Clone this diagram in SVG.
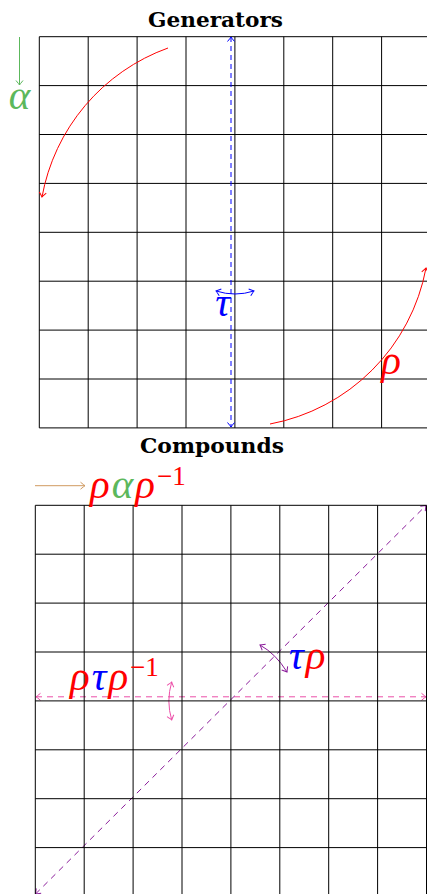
<svg xmlns="http://www.w3.org/2000/svg" width="427" height="894" viewBox="0 0 427 894">
<style>
.grid{fill:none;stroke:#000;stroke-width:1}
.title{font-family:"DejaVu Serif","Liberation Serif",serif;font-weight:bold;font-size:20px;fill:#000}
.m{font-family:"Liberation Serif","DejaVu Serif",serif;font-style:italic;font-size:41px}
.g{letter-spacing:2px}
.sup{font-family:"Liberation Serif","DejaVu Serif",serif;font-size:27px;letter-spacing:0}
.c{fill:none;stroke-width:1}
</style>
<defs>
<marker id="hr" viewBox="-6 -5 8 10" markerWidth="8" markerHeight="10" refX="0" refY="0" orient="auto-start-reverse" markerUnits="userSpaceOnUse"><path d="M-4.5,-3.5 Q-1,-0.6 0,0 Q-1,0.6 -4.5,3.5" fill="none" stroke="#f00" stroke-width="1"/></marker>
<marker id="hb" viewBox="-6 -5 8 10" markerWidth="8" markerHeight="10" refX="0" refY="0" orient="auto-start-reverse" markerUnits="userSpaceOnUse"><path d="M-4.5,-3.5 Q-1,-0.6 0,0 Q-1,0.6 -4.5,3.5" fill="none" stroke="#00f" stroke-width="1"/></marker>
<marker id="hg" viewBox="-6 -5 8 10" markerWidth="8" markerHeight="10" refX="0" refY="0" orient="auto-start-reverse" markerUnits="userSpaceOnUse"><path d="M-4.5,-3.5 Q-1,-0.6 0,0 Q-1,0.6 -4.5,3.5" fill="none" stroke="#5cb85c" stroke-width="1"/></marker>
<marker id="hn" viewBox="-6 -5 8 10" markerWidth="8" markerHeight="10" refX="0" refY="0" orient="auto-start-reverse" markerUnits="userSpaceOnUse"><path d="M-4.5,-3.5 Q-1,-0.6 0,0 Q-1,0.6 -4.5,3.5" fill="none" stroke="#d09a60" stroke-width="1"/></marker>
<marker id="hp" viewBox="-6 -5 8 10" markerWidth="8" markerHeight="10" refX="0" refY="0" orient="auto-start-reverse" markerUnits="userSpaceOnUse"><path d="M-4.5,-3.5 Q-1,-0.6 0,0 Q-1,0.6 -4.5,3.5" fill="none" stroke="#8a1a9a" stroke-width="1"/></marker>
<marker id="hk" viewBox="-6 -5 8 10" markerWidth="8" markerHeight="10" refX="0" refY="0" orient="auto-start-reverse" markerUnits="userSpaceOnUse"><path d="M-4.5,-3.5 Q-1,-0.6 0,0 Q-1,0.6 -4.5,3.5" fill="none" stroke="#ec4fa8" stroke-width="1"/></marker>
</defs>
<rect width="427" height="894" fill="#fff"/>

<g id="generators">
<text class="title" x="148" y="27" textLength="135" lengthAdjust="spacingAndGlyphs">Generators</text>
<g id="grid-top">
<path class="grid" d="M39.3,36.7V427.9M88.2,36.7V427.9M137.1,36.7V427.9M186,36.7V427.9M234.9,36.7V427.9M283.8,36.7V427.9M332.7,36.7V427.9M381.6,36.7V427.9
M39.3,36.7H430M39.3,85.6H430M39.3,134.5H430M39.3,183.4H430M39.3,232.3H430M39.3,281.2H430M39.3,330.1H430M39.3,379H430M39.3,427.9H430"/>
</g>
</g>

<g id="connectors">
<path id="alpha-arrow" class="c" stroke="#5cb85c" d="M19.5,37V85" marker-end="url(#hg)"/>
<path id="rho-arc-1" class="c" stroke="#f00" d="M168,48 A195.5,195.5 0 0 0 42,197" marker-end="url(#hr)"/>
<path id="rho-arc-2" class="c" stroke="#f00" d="M270,424 A195.5,195.5 0 0 0 426,268" marker-end="url(#hr)"/>
<path id="tau-axis" class="c" stroke="#00f" stroke-dasharray="5 4" d="M231,37V427" marker-start="url(#hb)" marker-end="url(#hb)"/>
<path id="tau-arrow" class="c" stroke="#00f" d="M216,291 Q235,297 254,291" marker-start="url(#hb)" marker-end="url(#hb)"/>
<path id="conj-arrow" class="c" stroke="#d09a60" d="M35,485.7H85" marker-end="url(#hn)"/>
<path id="rtr-axis" class="c" stroke="#ec4fa8" stroke-dasharray="6 5" d="M36,696.8H426" marker-start="url(#hk)" marker-end="url(#hk)"/>
<path id="rtr-arrow" class="c" stroke="#ec4fa8" d="M171.7,682 Q166,701 171.7,720" marker-start="url(#hk)" marker-end="url(#hk)"/>
<path id="taurho-axis" class="c" stroke="#8a1a9a" stroke-dasharray="6 5" d="M35.5,894 L426,505.5" marker-start="url(#hp)" marker-end="url(#hp)"/>
<path id="taurho-arrow" class="c" stroke="#8a1a9a" d="M260,645 Q276,654 287,672" marker-start="url(#hp)" marker-end="url(#hp)"/>
</g>

<g id="label-alpha"><text class="m" x="19.5" y="109" text-anchor="middle" fill="#5cb85c">α</text></g>
<g id="label-tau"><text class="m" x="222.5" y="316" text-anchor="middle" fill="#00f">τ</text></g>
<g id="label-rho"><text class="m" x="391" y="374" text-anchor="middle" fill="#f00">ρ</text></g>

<g id="compounds">
<text class="title" x="140" y="453" textLength="144" lengthAdjust="spacingAndGlyphs">Compounds</text>
<g id="grid-bottom">
<path class="grid" d="M35.3,505.3V894M84.2,505.3V894M133.1,505.3V894M182,505.3V894M230.9,505.3V894M279.8,505.3V894M328.7,505.3V894M377.6,505.3V894M426.5,505.3V894
M35.3,505.3H426.5M35.3,554.2H426.5M35.3,603.1H426.5M35.3,652H426.5M35.3,700.9H426.5M35.3,749.8H426.5M35.3,798.7H426.5M35.3,847.6H426.5"/>
</g>
</g>

<g id="label-rar"><text x="90" y="498" class="g"><tspan class="m" fill="#f00">ρ</tspan><tspan class="m" fill="#5cb85c">α</tspan><tspan class="m" fill="#f00">ρ</tspan><tspan class="sup" fill="#f00" dy="-13">−1</tspan></text></g>
<g id="label-rtr"><text x="70" y="690" class="g"><tspan class="m" fill="#f00">ρ</tspan><tspan class="m" fill="#00f">τ</tspan><tspan class="m" fill="#f00">ρ</tspan><tspan class="sup" fill="#f00" dy="-14">−1</tspan></text></g>
<g id="label-taurho"><text x="289" y="669" class="g"><tspan class="m" fill="#00f">τ</tspan><tspan class="m" fill="#f00">ρ</tspan></text></g>
</svg>
